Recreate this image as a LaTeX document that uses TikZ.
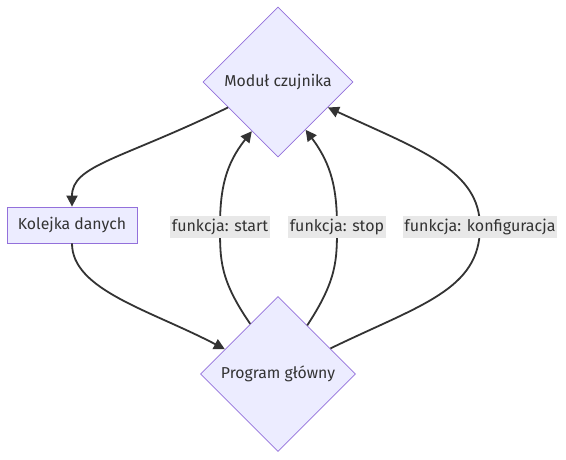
\documentclass[tikz,border=0pt]{standalone}
\usepackage{fontspec}
\setmainfont{Fira Sans}
\usetikzlibrary{shapes.geometric,arrows.meta}
\definecolor{nodefill}{HTML}{ECECFF}
\definecolor{nodeline}{HTML}{9370DB}
\definecolor{txt}{HTML}{333333}
\definecolor{edge}{HTML}{333333}
\definecolor{lblbg}{HTML}{E8E8E8}
\tikzset{
  dia/.style={shape=diamond, draw=nodeline, fill=nodefill, line width=0.8pt, inner sep=0pt, minimum width=#1, minimum height=#1, text=txt, font=\fontsize{15.8}{18}\selectfont},
  boxnode/.style={draw=nodeline, fill=nodefill, line width=0.8pt, minimum width=130pt, minimum height=36pt, inner sep=0pt, text=txt, font=\fontsize{15.8}{18}\selectfont},
  conn/.style={draw=edge, line width=1.8pt, -{Triangle[length=11pt,width=11pt]}},
  lbl/.style={fill=lblbg, text=txt, inner sep=1.5pt, minimum height=22pt, font=\fontsize{16}{18}\selectfont}
}
\begin{document}
\begin{tikzpicture}[x=1pt,y=-1pt]
\useasboundingbox (0,0) rectangle (566,460);
\fill[white] (0,0) rectangle (566,460);
\node[dia=150pt] (mod) at (278,82) {Moduł czujnika};
\node[dia=155pt] (prog) at (278,374) {Program główny};
\node[boxnode] (kol) at (72,225) {Kolejka danych};

\draw[conn] (mod.207) .. controls (120,160) and (72,165) .. (kol.north);
\draw[conn] (kol.south) .. controls (72,290) and (150,310) .. (prog.155);
\draw[conn] (prog.119) .. controls (220,280) and (220,260) .. (220,227) .. controls (220,190) and (225,165) .. (mod.242);
\draw[conn] (prog.59) .. controls (337,280) and (337,260) .. (337,227) .. controls (337,190) and (332,165) .. (mod.300);
\draw[conn] (prog.26) .. controls (420,305) and (480,290) .. (480,227) .. controls (480,170) and (420,150) .. (mod.333);

\node[lbl] (l1) at (220,227) {funkcja: start};
\node[lbl] (l2) at (337,227) {funkcja: stop};
\node[lbl] (l3) at (480,227) {funkcja: konfiguracja};
\end{tikzpicture}
\end{document}
